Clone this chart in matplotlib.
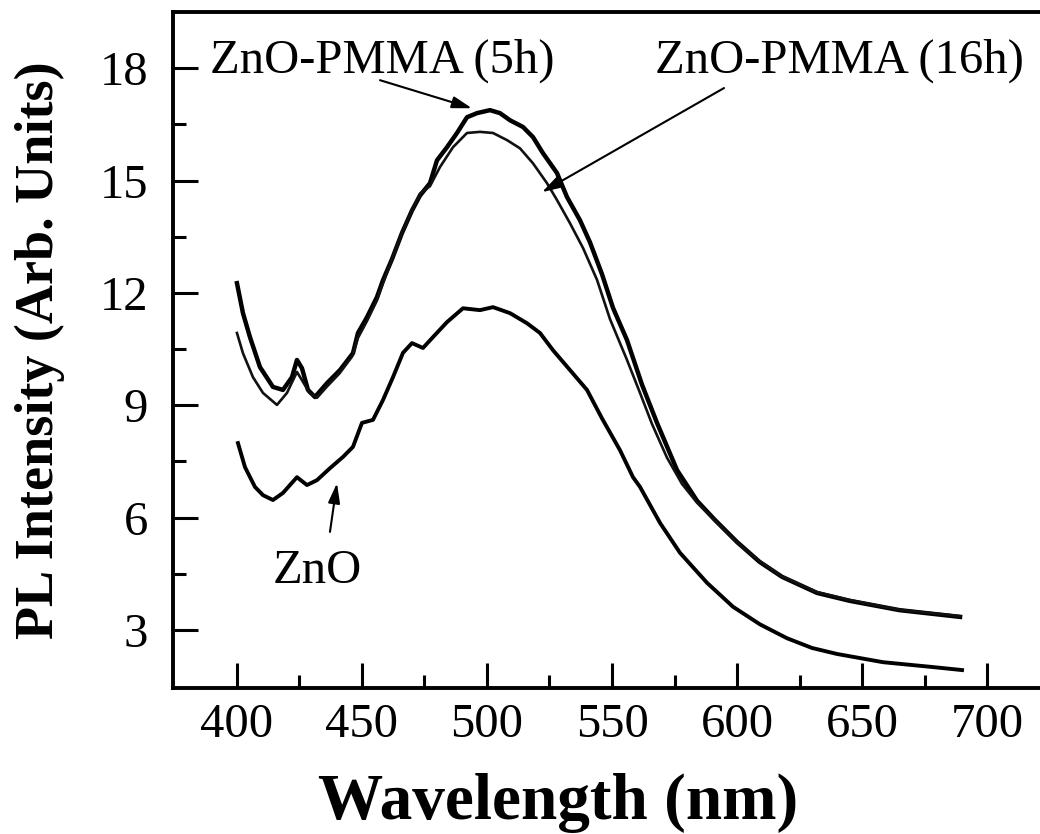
import numpy as np
import matplotlib.pyplot as plt

plt.rcParams["font.family"] = ["Liberation Serif", "DejaVu Serif"]

# PL spectra, read in nm / arb. units
wl_5h = [400, 402.4, 405.2, 409.2, 414.4, 418.4, 422, 424, 426, 428.4, 431.2, 436,
         441.2, 446.4, 448.4, 452, 456, 458.4, 462, 466, 470, 473.2, 477.2, 480,
         484, 488, 492, 496, 501.2, 505.2, 509.2, 514.4, 518.4, 522.4, 528, 532,
         537.2, 541.2, 546, 550.4, 556, 562, 568, 576, 584, 591, 600, 609,
         618, 632, 645, 665, 689.2]
pl_5h = [12.26, 11.46, 10.82, 10.02, 9.49, 9.41, 9.75, 10.21, 9.99, 9.41, 9.22, 9.59,
         9.94, 10.39, 10.93, 11.35, 11.89, 12.34, 12.9, 13.6, 14.2, 14.6, 14.93, 15.54,
         15.89, 16.27, 16.69, 16.8, 16.88, 16.8, 16.61, 16.43, 16.16, 15.73, 15.2, 14.56,
         13.94, 13.35, 12.5, 11.6, 10.74, 9.55, 8.53, 7.27, 6.45, 5.95, 5.35, 4.82,
         4.42, 3.99, 3.78, 3.53, 3.35]

wl_16h = [400, 402.4, 406.4, 410.4, 416, 420, 424, 426, 429, 432, 436, 441, 446,
          448.4, 452, 456, 458.4, 462, 466, 470, 473.2, 477.2, 481.2, 486.4, 492,
          497.2, 502.4, 508, 513.2, 518.4, 524, 528, 533.2, 538.4, 544, 549.2, 556,
          561.2, 566, 572, 578, 584, 591, 600, 609, 618, 632, 645, 665, 689.2]
pl_16h = [10.93, 10.39, 9.75, 9.33, 9.01, 9.33, 9.89, 9.67, 9.33, 9.2, 9.5, 9.85, 10.3,
          10.8, 11.25, 11.8, 12.25, 12.9, 13.6, 14.2, 14.65, 14.85, 15.36, 15.89, 16.27,
          16.3, 16.27, 16.08, 15.86, 15.46, 14.93, 14.48, 13.86, 13.2, 12.35, 11.3, 10.21,
          9.33, 8.5, 7.6, 6.9, 6.4, 5.93, 5.33, 4.84, 4.43, 4.01, 3.8, 3.54, 3.37]

wl_zno = [400.4, 403.2, 407.2, 410.4, 414.4, 418.4, 424, 428, 432, 437.2, 442.4,
          446.4, 450, 454.4, 458.4, 462.4, 466.4, 470, 474.4, 478.4, 484, 490.4, 497.2,
          502.4, 509.2, 516, 521.2, 526.4, 533.2, 540, 546, 553.2, 558.4, 561.2, 569.2,
          577.2, 588, 598.4, 609.2, 620, 630, 640, 658.4, 678.4, 690]
pl_zno = [7.99, 7.35, 6.82, 6.6, 6.47, 6.66, 7.08, 6.87, 7.0, 7.32, 7.62, 7.89, 8.53,
          8.61, 9.14, 9.75, 10.4, 10.66, 10.53, 10.82, 11.22, 11.59, 11.54, 11.62, 11.46,
          11.19, 10.93, 10.47, 9.94, 9.41, 8.65, 7.8, 7.08, 6.82, 5.86, 5.06, 4.26, 3.62,
          3.15, 2.78, 2.52, 2.36, 2.14, 2.01, 1.93]

fig = plt.figure(figsize=(10.4, 8.34), dpi=100)
ax = fig.add_axes([0.1663, 0.175, 0.84, 0.8106])

ax.plot(wl_5h, pl_5h, color="black", lw=3.2)
ax.plot(wl_16h, pl_16h, color="#111111", lw=1.9)
ax.plot(wl_zno, pl_zno, color="black", lw=2.8)

ax.set_xlim(374.4, 723.8)
ax.set_ylim(1.45, 19.5)
ax.set_xticks(np.arange(400, 701, 50))
ax.set_xticks(np.arange(425, 701, 50), minor=True)
ax.set_yticks(np.arange(3, 19, 3))
ax.set_yticks(np.arange(4.5, 19, 3), minor=True)

for side in ["left", "bottom", "top", "right"]:
    ax.spines[side].set_linewidth(2.8)
ax.tick_params(which="major", direction="in", length=18, width=2.2,
               labelsize=35, top=False, right=False)
ax.tick_params(which="minor", direction="in", length=9.5, width=2.2,
               top=False, right=False)
ax.tick_params(axis="x", pad=11)
ax.tick_params(axis="y", pad=18)

fig.text(558 / 1040, 1 - 803 / 834, "Wavelength (nm)", fontsize=47,
         fontweight="bold", ha="center", va="center")
fig.text(40 / 1040, 1 - 350 / 834, "PL Intensity (Arb. Units)", fontsize=39,
         fontweight="bold", ha="center", va="center", rotation=90)

arrow = dict(arrowstyle="-|>,head_length=0.6,head_width=0.18", color="black",
             lw=1.5, mutation_scale=20, shrinkA=0, shrinkB=0)
ax.text(389.2, 17.87, "ZnO-PMMA (5h)", fontsize=35, va="baseline", ha="left")
ax.annotate("", xy=(494, 16.93), xytext=(457.2, 17.68), arrowprops=arrow)
ax.text(567.2, 17.87, "ZnO-PMMA (16h)", fontsize=35, va="baseline", ha="left")
ax.annotate("", xy=(522, 14.69), xytext=(594.8, 17.47), arrowprops=arrow)
ax.text(414.4, 4.256, "ZnO", fontsize=35, va="baseline", ha="left")
ax.annotate("", xy=(440, 6.92), xytext=(437.2, 5.62), arrowprops=arrow)

fig.savefig("out.png", dpi=100)
